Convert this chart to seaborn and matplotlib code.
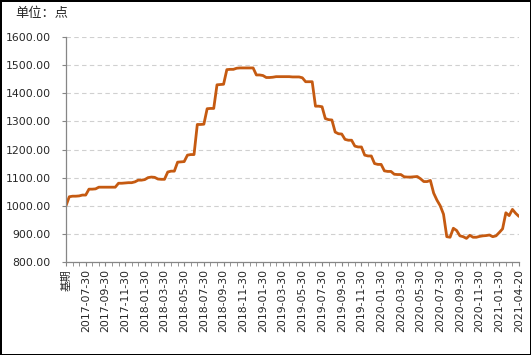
import numpy as np
import pandas as pd
import matplotlib
matplotlib.use("Agg")
import matplotlib.pyplot as plt
import seaborn as sns

# tick labels shown on the x axis (every 6th category)
tick_labels = ["基期", "2017-07-30", "2017-09-30", "2017-11-30",
               "2018-01-30", "2018-03-30", "2018-05-30", "2018-07-30",
               "2018-09-30", "2018-11-30", "2019-01-30", "2019-03-30",
               "2019-05-30", "2019-07-30", "2019-09-30", "2019-11-30",
               "2020-01-30", "2020-03-30", "2020-05-30", "2020-07-30",
               "2020-09-30", "2020-11-30", "2021-01-30", "2021-04-20"]

# index values (points), one per category
index_values = [
    1000, 1032, 1034, 1034, 1035, 1038, 1038, 1059, 1059, 1060,
    1066, 1066, 1066, 1066, 1066, 1066, 1080, 1080, 1081, 1082,
    1082, 1085, 1091, 1091, 1093, 1100, 1102, 1101, 1095, 1094,
    1094, 1120, 1123, 1123, 1155, 1156, 1157, 1180, 1182, 1182,
    1289, 1289, 1290, 1345, 1346, 1346, 1430, 1431, 1432, 1484,
    1485, 1485, 1489, 1490, 1490, 1490, 1490, 1490, 1465, 1465,
    1463, 1456, 1456, 1457, 1459, 1459, 1459, 1459, 1459, 1458,
    1458, 1458, 1455, 1441, 1441, 1441, 1354, 1354, 1352, 1310,
    1306, 1305, 1262, 1256, 1255, 1236, 1233, 1233, 1212, 1209,
    1209, 1180, 1177, 1177, 1150, 1147, 1147, 1124, 1122, 1122,
    1112, 1111, 1111, 1103, 1102, 1102, 1103, 1104, 1096, 1086,
    1086, 1090, 1045, 1020, 1000, 970, 890, 888, 920, 912,
    893, 890, 884, 895, 888, 888, 891, 893, 894, 896,
    890, 893, 905, 918, 975, 965, 987, 973, 962,
]

df = pd.DataFrame({"idx": np.arange(len(index_values)), "value": index_values})

sns.set_style("white")
plt.rcParams["font.family"] = ["DejaVu Sans", "Noto Sans CJK SC"]

fig = plt.figure(figsize=(5.31, 3.55), dpi=100)
fig.patch.set_edgecolor("black")
fig.patch.set_linewidth(1.0)
ax = fig.add_axes([66 / 531, 1 - 262 / 355, (519 - 66) / 531, (262 - 37) / 355])

sns.lineplot(data=df, x="idx", y="value", ax=ax, color="#C55A11", linewidth=2.0)

ax.set_xlim(0, len(index_values) - 1)
ax.set_ylim(800, 1600)
ax.set_yticks(np.arange(800, 1601, 100))
ax.set_yticklabels([f"{v:.2f}" for v in range(800, 1601, 100)], fontsize=7.8)
ax.set_xticks(np.arange(0, len(index_values), 2), minor=True)
ax.set_xticks(np.arange(0, len(index_values), 6))
ax.set_xticklabels(tick_labels, rotation=90, fontsize=7.8)
ax.set_xlabel("")
ax.set_ylabel("")

ax.yaxis.grid(True, color="#D0D0D0", linestyle=(0, (4, 3)), linewidth=0.8)
ax.set_axisbelow(True)
for s in ["top", "right"]:
    ax.spines[s].set_visible(False)
for s in ["left", "bottom"]:
    ax.spines[s].set_color("#868686")
    ax.spines[s].set_linewidth(0.9)
ax.tick_params(axis="y", which="major", length=3, color="#868686", left=True, pad=8)
ax.tick_params(axis="x", which="both", length=3, color="#868686", bottom=True, pad=2)

fig.text(15 / 531, 1 - 13 / 355, "单位：点", fontsize=9.5, va="center", ha="left",
         family=["Noto Sans CJK SC", "DejaVu Sans"])

fig.savefig("out.png", dpi=100, edgecolor=fig.get_edgecolor())
